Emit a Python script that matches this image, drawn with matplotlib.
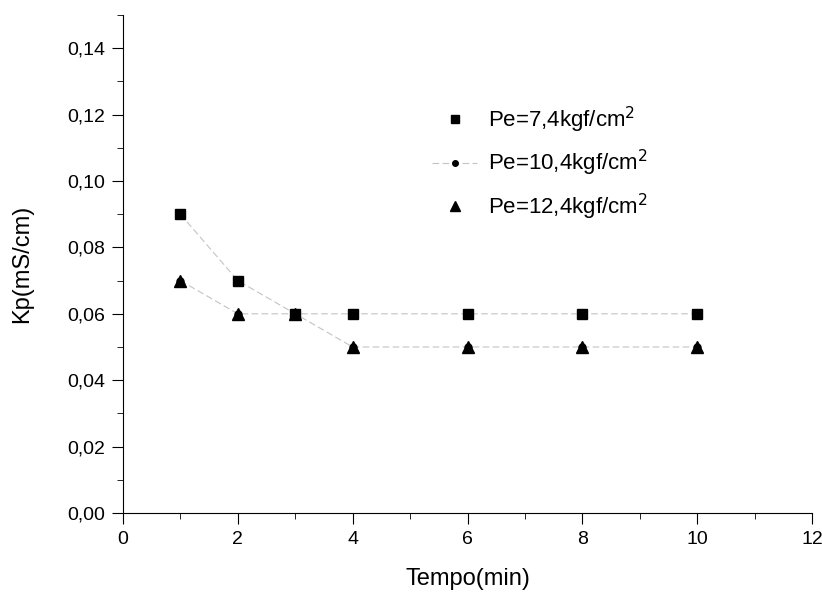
import matplotlib.pyplot as plt
from matplotlib.ticker import MultipleLocator, FuncFormatter

plt.rcParams['font.family'] = ['Liberation Sans', 'DejaVu Sans']

# data
tempo = [1, 2, 3, 4, 6, 8, 10]
kp_74 = [0.09, 0.07, 0.06, 0.06, 0.06, 0.06, 0.06]
kp_104 = [0.07, 0.06, 0.06, 0.05, 0.05, 0.05, 0.05]
kp_124 = [0.07, 0.06, 0.06, 0.05, 0.05, 0.05, 0.05]
labels = ['Pe=7,4kgf/cm$^2$', 'Pe=10,4kgf/cm$^2$', 'Pe=12,4kgf/cm$^2$']

fig = plt.figure(figsize=(8.22, 6), dpi=100)
ax = fig.add_axes([0.1496, 0.145, 0.8384, 0.83])

# faint connecting lines as in the scan
ax.plot(tempo, kp_74, color='#c4c4c4', linewidth=0.8, linestyle=(0, (6, 3)), zorder=1)

# circles sit under the triangles, only the line shows
ax.plot(tempo, kp_104, marker='o', color='#c4c4c4', markerfacecolor='black',
        markeredgecolor='black', markersize=5, linewidth=0.8,
        linestyle=(0, (6, 3)), label=labels[1], zorder=2)
ax.plot(tempo, kp_74, marker='s', color='black', markersize=7, linewidth=0,
        label=labels[0], zorder=3)
ax.plot(tempo, kp_124, marker='^', color='black', markersize=9, linewidth=0,
        label=labels[2], zorder=3)

ax.set_xlim(0, 12)
ax.set_ylim(0, 0.15)
ax.xaxis.set_major_locator(MultipleLocator(2))
ax.xaxis.set_minor_locator(MultipleLocator(1))
ax.yaxis.set_major_locator(MultipleLocator(0.02))
ax.yaxis.set_minor_locator(MultipleLocator(0.01))
ax.yaxis.set_major_formatter(FuncFormatter(lambda v, p: '{:.2f}'.format(v).replace('.', ',')))
ax.spines['top'].set_visible(False)
ax.spines['right'].set_visible(False)
ax.tick_params(which='major', length=8, labelsize=14, pad=5)
ax.tick_params(which='minor', length=4)
ax.set_xlabel('Tempo(min)', fontsize=17, labelpad=14)
ax.set_ylabel('Kp(mS/cm)', fontsize=17, labelpad=24)

handles, labs = ax.get_legend_handles_labels()
order = [1, 0, 2]
ax.legend([handles[i] for i in order], [labs[i] for i in order], frameon=False,
          loc='upper left', bbox_to_anchor=(0.42, 0.86), fontsize=16,
          labelspacing=0.6, handletextpad=0.5, markerscale=0.8)

fig.savefig('out.png', dpi=100)
